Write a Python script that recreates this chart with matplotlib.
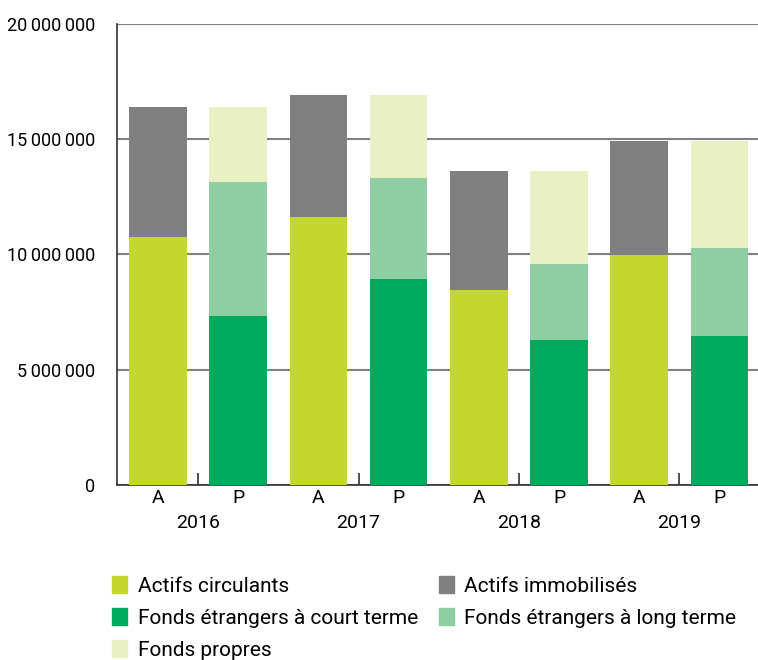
import numpy as np
import matplotlib.pyplot as plt
from matplotlib.patches import Patch
from matplotlib.ticker import FuncFormatter

plt.rcParams['font.family'] = ['Roboto', 'DejaVu Sans']

# ---------------------------
# Data
# ---------------------------
years = ['2016', '2017', '2018', '2019']
actifs_circulants = [10.76e6, 11.63e6, 8.46e6, 9.98e6]
actifs_immobilises = [5.64e6, 5.29e6, 5.16e6, 4.94e6]
fe_court = [7.33e6, 8.94e6, 6.29e6, 6.46e6]
fe_long = [5.82e6, 4.38e6, 3.30e6, 3.82e6]
fonds_propres = [3.25e6, 3.60e6, 4.03e6, 4.64e6]
side_labels = ['A', 'P']

c_circ = '#c2d82f'
c_immo = '#808080'
c_court = '#00a95c'
c_long = '#8fcda2'
c_prop = '#e8f0c4'

fig = plt.figure(figsize=(7.58, 6.6), dpi=100)
ax = fig.add_axes([0.1544, 0.2652, 0.8456, 0.6984])

n = len(years)
xa = np.arange(n) * 2
xp = xa + 1
w = 0.72

circ = np.array(actifs_circulants)
court = np.array(fe_court)
long_ = np.array(fe_long)

ax.bar(xa, circ, w, color=c_circ, zorder=3)
ax.bar(xa, actifs_immobilises, w, bottom=circ, color=c_immo, zorder=3)
ax.bar(xp, court, w, color=c_court, zorder=3)
ax.bar(xp, long_, w, bottom=court, color=c_long, zorder=3)
ax.bar(xp, fonds_propres, w, bottom=court + long_, color=c_prop, zorder=3)

ax.set_xlim(-0.51, 7.48)
ax.set_ylim(0, 20e6)
ax.set_yticks(np.arange(0, 20e6 + 1, 5e6))
ax.yaxis.set_major_formatter(FuncFormatter(lambda v, p: f'{int(v):,}'.replace(',', '\u2009')))
ax.yaxis.grid(True, color='#808080', linewidth=1.5, zorder=0)
ax.tick_params(axis='y', length=0, pad=16, labelsize=13)

# year ticks in the middle of each pair, A/P as minor labels
ax.set_xticks(xa + 0.5)
ax.set_xticklabels(years)
ax.set_xticks(np.arange(2 * n), minor=True)
ax.set_xticklabels(side_labels * n, minor=True)
ax.tick_params(axis='x', which='major', direction='in', length=9, width=1.2,
               color='#333333', pad=21, labelsize=14)
ax.tick_params(axis='x', which='minor', length=0, pad=3, labelsize=14)

for s in ['top', 'right']:
    ax.spines[s].set_visible(False)
ax.spines['left'].set_color('#333333')
ax.spines['bottom'].set_color('#333333')
ax.spines['left'].set_linewidth(1.2)
ax.spines['bottom'].set_linewidth(1.2)

handles = [
    Patch(color=c_circ, label='Actifs circulants'),
    Patch(color=c_court, label='Fonds étrangers à court terme'),
    Patch(color=c_prop, label='Fonds propres'),
    Patch(color=c_immo, label='Actifs immobilisés'),
    Patch(color=c_long, label='Fonds étrangers à long terme'),
]
fig.legend(handles=handles, ncol=2, loc='upper left', bbox_to_anchor=(0.148, 0.127),
           frameon=False, fontsize=15, handlelength=0.72, handleheight=0.85,
           handletextpad=0.5, columnspacing=1.0, labelspacing=0.6,
           borderaxespad=0, borderpad=0)

fig.savefig('out.png', dpi=100)
